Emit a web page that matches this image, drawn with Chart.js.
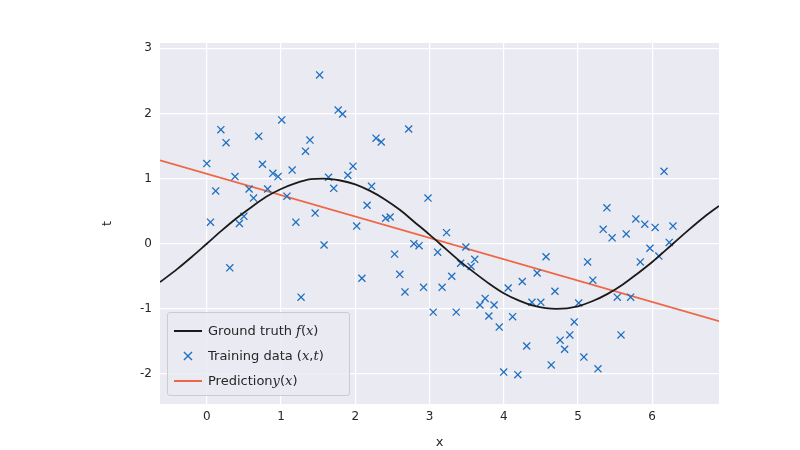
<!DOCTYPE html>
<html>
<head>
<meta charset="utf-8">
<script src="https://cdn.jsdelivr.net/npm/chart.js@4/dist/chart.umd.min.js"></script>
<style>
  body { margin: 0; background: #fff; font-family: "DejaVu Sans", sans-serif; }
  #wrap { position: relative; width: 800px; height: 450px; }
  #legend { position: absolute; left: 167px; top: 312px; width: 183px; height: 84px;
    background: rgba(234,234,242,0.85); border: 1px solid #ccc; border-radius: 3px;
    font-size: 13px; color: #262626; box-sizing: border-box; padding-top: 5px; }
  .row { height: 25px; display: flex; align-items: center; }
  .sym { width: 40px; display: flex; justify-content: center; align-items: center; }
  .ln { width: 28px; height: 2px; }
  i { font-family: "DejaVu Serif", serif; }
</style>
</head>
<body>
<div id="wrap">
  <canvas id="myChart" width="800" height="450"></canvas>
  <div id="legend">
    <div class="row"><div class="sym"><div class="ln" style="background:#1a1a1a"></div></div>Ground truth <i>&nbsp;f</i>(<i>x</i>)</div>
    <div class="row"><div class="sym" style="color:#1f6fbf;font-size:16px">×</div>Training data (<i>x</i>, <i>t</i>)</div>
    <div class="row"><div class="sym"><div class="ln" style="background:#ee6644"></div></div>Prediction <i>y</i>(<i>x</i>)</div>
  </div>
</div>
<script>
var trainX = [0, 0.05, 0.12, 0.19, 0.26, 0.31, 0.38, 0.44, 0.5, 0.57, 0.63, 0.7, 0.75, 0.82, 0.89, 0.96,
  1.01, 1.08, 1.15, 1.2, 1.27, 1.33, 1.39, 1.46, 1.52, 1.58, 1.64, 1.71, 1.77, 1.83, 1.9, 1.97,
  2.02, 2.09, 2.16, 2.22, 2.28, 2.35, 2.41, 2.47, 2.53, 2.6, 2.67, 2.72, 2.79, 2.86, 2.92, 2.98,
  3.05, 3.11, 3.17, 3.23, 3.3, 3.36, 3.42, 3.49, 3.56, 3.61, 3.68, 3.75, 3.8, 3.87, 3.94, 4.0,
  4.06, 4.12, 4.19, 4.25, 4.31, 4.38, 4.45, 4.5, 4.57, 4.64, 4.69, 4.76, 4.82, 4.89, 4.95, 5.01,
  5.08, 5.13, 5.2, 5.27, 5.34, 5.39, 5.46, 5.53, 5.58, 5.65, 5.71, 5.78, 5.84, 5.9, 5.97, 6.04,
  6.09, 6.16, 6.23, 6.28];
var trainT = [1.23, 0.33, 0.81, 1.75, 1.55, -0.37, 1.03, 0.31, 0.42, 0.84, 0.7, 1.65, 1.22, 0.84, 1.08, 1.03,
  1.9, 0.73, 1.13, 0.33, -0.82, 1.42, 1.59, 0.47, 2.59, -0.02, 1.02, 0.85, 2.05, 1.99, 1.05, 1.19,
  0.27, -0.53, 0.59, 0.88, 1.62, 1.56, 0.39, 0.41, -0.16, -0.47, -0.74, 1.76, 0, -0.03, -0.67, 0.7,
  -1.05, -0.13, -0.67, 0.17, -0.5, -1.05, -0.3, -0.05, -0.35, -0.24, -0.94, -0.84, -1.11, -0.94, -1.28, -1.97,
  -0.68, -1.12, -2.01, -0.58, -1.57, -0.9, -0.45, -0.9, -0.2, -1.86, -0.73, -1.48, -1.62, -1.4, -1.2, -0.91,
  -1.74, -0.28, -0.56, -1.92, 0.22, 0.55, 0.09, -0.82, -1.4, 0.15, -0.82, 0.38, -0.28, 0.3, -0.07, 0.25,
  -0.19, 1.11, 0.02, 0.27];
// ground truth curve, sampled
var truthX = [-0.63, -0.4, -0.2, 0, 0.2, 0.4, 0.6, 0.8, 1.0, 1.2, 1.4, 1.57, 1.8, 2.0, 2.2, 2.4, 2.6, 2.8, 3.0,
  3.14, 3.4, 3.6, 3.8, 4.0, 4.2, 4.4, 4.71, 5.0, 5.2, 5.4, 5.6, 5.8, 6.0, 6.28, 6.5, 6.7, 6.9];
var truthY = [-0.59, -0.39, -0.2, 0, 0.2, 0.39, 0.56, 0.72, 0.84, 0.93, 0.99, 1, 0.97, 0.91, 0.81, 0.68, 0.52, 0.33, 0.14,
  0, -0.26, -0.44, -0.61, -0.76, -0.87, -0.95, -1, -0.96, -0.88, -0.77, -0.63, -0.46, -0.28, 0, 0.22, 0.41, 0.58];
var predX = [-0.63, 6.9];
var predY = [1.28, -1.19];
var xTicks = [0, 1, 2, 3, 4, 5, 6];
var yTicks = [-2, -1, 0, 1, 2, 3];

function pts(xs, ys) { return xs.map((x, i) => ({ x: x, y: ys[i] })); }

var bgPlugin = {
  id: 'bg',
  beforeDraw: function(chart) {
    var a = chart.chartArea, c = chart.ctx;
    c.save(); c.fillStyle = '#eaeaf2';
    c.fillRect(a.left, a.top, a.right - a.left, a.bottom - a.top); c.restore();
  }
};

var tickFont = { family: 'DejaVu Sans', size: 12 };
new Chart(document.getElementById('myChart').getContext('2d'), {
  type: 'scatter',
  data: {
    datasets: [
      { data: pts(truthX, truthY), showLine: true, borderColor: '#1a1a1a', borderWidth: 1.8,
        pointRadius: 0, cubicInterpolationMode: 'monotone' },
      { data: pts(trainX, trainT), pointStyle: 'cross', rotation: 45, pointRadius: 5,
        borderColor: '#1f6fbf', borderWidth: 1.3, showLine: false },
      { data: pts(predX, predY), showLine: true, borderColor: '#ee6644', borderWidth: 1.8, pointRadius: 0 }
    ]
  },
  options: {
    responsive: false,
    animation: false,
    layout: { padding: { left: 100, right: 81, top: 43, bottom: 0 } },
    plugins: { legend: { display: false }, tooltip: { enabled: false } },
    scales: {
      x: {
        min: -0.63, max: 6.9,
        afterBuildTicks: function(s) { s.ticks = xTicks.map(v => ({ value: v })); },
        afterFit: function(s) { s.height = 46; },
        grid: { color: '#ffffff', lineWidth: 1.2, drawTicks: false },
        border: { display: false },
        ticks: { color: '#262626', font: tickFont, padding: 6 },
        title: { display: true, text: 'x', color: '#262626', font: { family: 'DejaVu Sans', size: 13 }, padding: 0 }
      },
      y: {
        min: -2.46, max: 3.08,
        afterBuildTicks: function(s) { s.ticks = yTicks.map(v => ({ value: v })); },
        afterFit: function(s) { s.width = 60; },
        grid: { color: '#ffffff', lineWidth: 1.2, drawTicks: false },
        border: { display: false },
        ticks: { color: '#262626', font: tickFont, padding: 8 },
        title: { display: true, text: 't', color: '#262626', font: { family: 'DejaVu Sans', size: 13 }, padding: 0 }
      }
    }
  },
  plugins: [bgPlugin]
});
</script>
</body>
</html>
